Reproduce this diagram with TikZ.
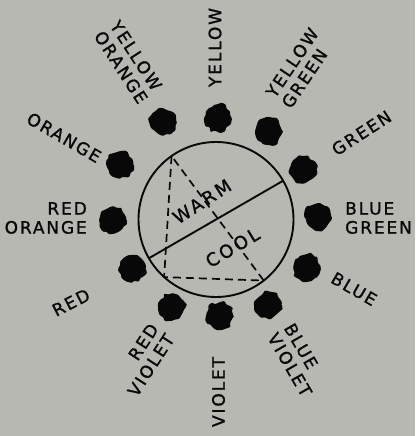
\documentclass[tikz,border=0pt]{standalone}
\usepackage{fontspec}
\setmainfont{DejaVu Sans}[LetterSpace=11,FakeBold=1.2]
\usetikzlibrary{decorations.pathmorphing}
\definecolor{paper}{RGB}{183,184,178}
\definecolor{ink}{RGB}{8,8,8}
\tikzset{
  blob/.style={circle,fill=ink,minimum size=27pt,inner sep=0pt,rounded corners=1pt,
    decorate,decoration={random steps,segment length=3.5pt,amplitude=1.8pt}},
  hue/.style={font=\fontsize{17}{19}\selectfont,text=ink,inner sep=0pt},
  zone/.style={font=\fontsize{18}{19}\selectfont\addfontfeature{LetterSpace=15},
    text=ink,inner sep=0pt},
  rim/.style={draw=ink,line width=1.9pt},
  split/.style={draw=ink,line width=1.7pt,dash pattern=on 8pt off 5pt},
}

\begin{document}
\begin{tikzpicture}[x=1pt,y=-1pt]
  \pgfmathsetseed{7}
  \useasboundingbox (0,0) rectangle (415,436);
  \fill[paper] (0,0) rectangle (415,436);

  % wheel
  \node[circle,rim,minimum size=155pt,inner sep=0pt,outer sep=0pt] (wheel) at (216,219.5) {};
  \draw[rim] (wheel.210) -- (wheel.30);
  \draw[split] (wheel.125) -- (wheel.228) -- (wheel.308) -- cycle;
  \node[zone,rotate=33] (warm) at (202,201.5) {WARM};
  \node[zone,rotate=31] (cool) at (232.5,247.5) {COOL};

  % blobs
  \node[blob] (bYO) at (163,122) {};
  \node[blob] (bY)  at (218,118) {};
  \node[blob] (bYG) at (269,131) {};
  \node[blob] (bG)  at (303,170) {};
  \node[blob] (bBG) at (318,217) {};
  \node[blob] (bB)  at (307,268) {};
  \node[blob] (bBV) at (268,305) {};
  \node[blob] (bV)  at (220,316) {};
  \node[blob] (bRV) at (172,307) {};
  \node[blob] (bR)  at (132,269) {};
  \node[blob] (bRO) at (113,220) {};
  \node[blob] (bO)  at (120,165) {};

  % labels
  \node[hue,rotate=-57,align=left] (lYO) at (129,62) {YELLOW\\ORANGE};
  \node[hue,rotate=90] (lY) at (215,47.5) {YELLOW};
  \node[hue,rotate=56,align=left] (lYG) at (300,68) {YELLOW\\GREEN};
  \node[hue,rotate=33] (lG) at (361.5,133) {GREEN};
  \node[hue,align=left,anchor=west] (lBG) at (345,218) {BLUE\\GREEN};
  \node[hue,rotate=-30] (lB) at (354,289) {BLUE};
  \node[hue,rotate=-60,align=left] (lBV) at (298,360) {BLUE\\VIOLET};
  \node[hue,rotate=90] (lV) at (218.5,392) {VIOLET};
  \node[hue,rotate=57,align=right] (lRV) at (143,360) {RED\\VIOLET};
  \node[hue,rotate=27] (lR) at (71,302.5) {RED};
  \node[hue,align=right,anchor=east] (lRO) at (87,218) {RED\\ORANGE};
  \node[hue,rotate=-30] (lO) at (64,137.5) {ORANGE};
\end{tikzpicture}
\end{document}
